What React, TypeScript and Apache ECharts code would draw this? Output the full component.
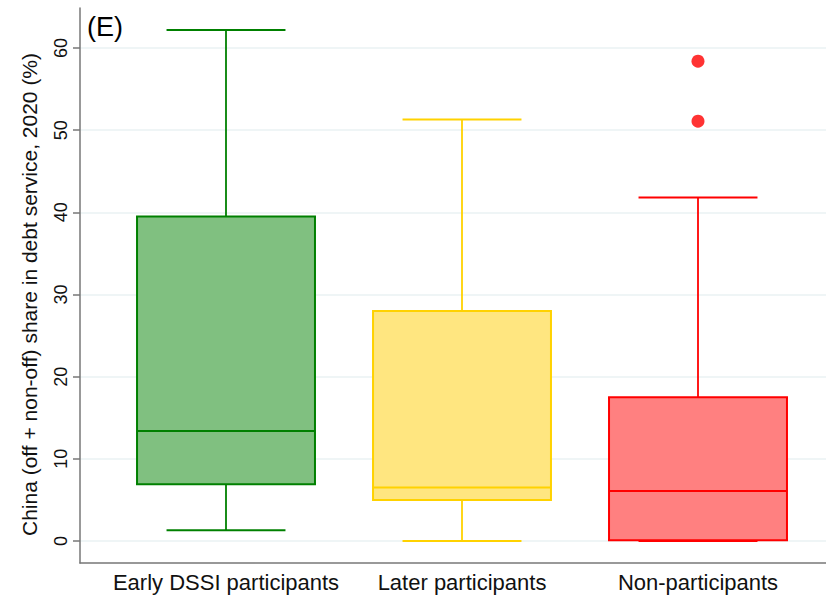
import React, { useEffect, useRef } from "react";
import * as echarts from "echarts";

const categories = ["Early DSSI participants", "Later participants", "Non-participants"];
const whiskerLow = [1.3, 0, 0];
const q1 = [6.9, 5.0, 0.1];
const median = [13.4, 6.5, 6.1];
const q3 = [39.5, 28.0, 17.5];
const whiskerHigh = [62.2, 51.3, 41.8];
const outliers: number[][] = [
  [2, 58.4],
  [2, 51.1],
];
const yTicks = [0, 10, 20, 30, 40, 50, 60];

const strokeColors = ["#008000", "#FFD200", "#FF0000"];
const fillColors = ["#80C080", "#FFE680", "#FF8080"];
const FONT = "Arial, 'Liberation Sans', sans-serif";

export default function App() {
  const ref = useRef<HTMLDivElement>(null);
  useEffect(() => {
    if (!ref.current) return;
    const chart = echarts.init(ref.current, undefined, { renderer: "svg" });
    const boxData = categories.map((_, i) => [i, whiskerLow[i], q1[i], median[i], q3[i], whiskerHigh[i]]);
    chart.setOption({
      animation: false,
      backgroundColor: "#ffffff",
      textStyle: { fontFamily: FONT },
      title: {
        text: "(E)",
        left: 82,
        top: 8,
        textStyle: { fontSize: 27, fontWeight: "normal", color: "#000", fontFamily: FONT },
      },
      grid: [
        { left: 80, right: 0, top: 48, bottom: 56 },
        { left: 80, right: 0, top: 8, bottom: 34 },
        { left: 108, right: 10, top: 48, bottom: 56 },
      ],
      xAxis: [
        { gridIndex: 0, type: "value", show: false, min: 0, max: 1 },
        {
          gridIndex: 1,
          type: "value",
          min: 0,
          max: 1,
          axisLine: { show: true, lineStyle: { color: "#777", width: 1.5 } },
          axisTick: { show: false },
          axisLabel: { show: false },
          splitLine: { show: false },
        },
        {
          gridIndex: 2,
          type: "category",
          data: categories,
          axisLine: { show: false },
          axisTick: { show: false },
          axisLabel: { interval: 0, margin: 30, fontSize: 22, color: "#111", fontFamily: FONT },
          splitLine: { show: false },
        },
      ],
      yAxis: [
        {
          gridIndex: 0,
          type: "value",
          min: yTicks[0],
          max: yTicks[yTicks.length - 1],
          interval: 10,
          name: "China (off + non-off) share in debt service, 2020 (%)",
          nameLocation: "middle",
          nameGap: 40,
          nameTextStyle: { fontSize: 21, color: "#111", fontFamily: FONT },
          axisLine: { show: false },
          axisTick: { show: true, length: 7, lineStyle: { color: "#777", width: 1.5 } },
          axisLabel: { rotate: 90, margin: 10, fontSize: 18, color: "#111", fontFamily: FONT },
          splitLine: { show: true, lineStyle: { color: "#EAF2F3", width: 1.5 } },
        },
        {
          gridIndex: 1,
          type: "value",
          min: 0,
          max: 1,
          axisLine: { show: true, lineStyle: { color: "#777", width: 1.5 } },
          axisTick: { show: false },
          axisLabel: { show: false },
          splitLine: { show: false },
        },
        {
          gridIndex: 2,
          type: "value",
          min: 0,
          max: 60,
          show: false,
        },
      ],
      series: [
        {
          type: "custom",
          xAxisIndex: 2,
          yAxisIndex: 2,
          data: boxData,
          renderItem: (params: any, api: any) => {
            const i = api.value(0);
            const band = api.size([1, 0])[0];
            const boxW = band * 0.754;
            const capW = band * 0.504;
            const pLo = api.coord([i, api.value(1)]);
            const pQ1 = api.coord([i, api.value(2)]);
            const pMed = api.coord([i, api.value(3)]);
            const pQ3 = api.coord([i, api.value(4)]);
            const pHi = api.coord([i, api.value(5)]);
            const cx = pMed[0];
            const stroke = strokeColors[params.dataIndex];
            const fill = fillColors[params.dataIndex];
            const ls = { stroke, lineWidth: 2, fill: null };
            return {
              type: "group",
              children: [
                { type: "line", shape: { x1: cx, y1: pQ3[1], x2: cx, y2: pHi[1] }, style: { ...ls, lineWidth: 1.8 } },
                { type: "line", shape: { x1: cx, y1: pLo[1], x2: cx, y2: pQ1[1] }, style: { ...ls, lineWidth: 1.8 } },
                { type: "line", shape: { x1: cx - capW / 2, y1: pHi[1], x2: cx + capW / 2, y2: pHi[1] }, style: ls },
                { type: "line", shape: { x1: cx - capW / 2, y1: pLo[1], x2: cx + capW / 2, y2: pLo[1] }, style: ls },
                {
                  type: "rect",
                  shape: { x: cx - boxW / 2, y: pQ3[1], width: boxW, height: pQ1[1] - pQ3[1] },
                  style: { fill, stroke, lineWidth: 2 },
                },
                { type: "line", shape: { x1: cx - boxW / 2, y1: pMed[1], x2: cx + boxW / 2, y2: pMed[1] }, style: ls },
              ],
            };
          },
        },
        {
          type: "scatter",
          xAxisIndex: 2,
          yAxisIndex: 2,
          data: outliers,
          symbol: "circle",
          symbolSize: 13,
          itemStyle: { color: "#FF0000" },
        },
      ],
    });
    return () => chart.dispose();
  }, []);
  return (
    <div
      ref={ref}
      style={{ position: "fixed", left: 0, top: 0, width: 826, height: 597, background: "#fff" }}
    />
  );
}
